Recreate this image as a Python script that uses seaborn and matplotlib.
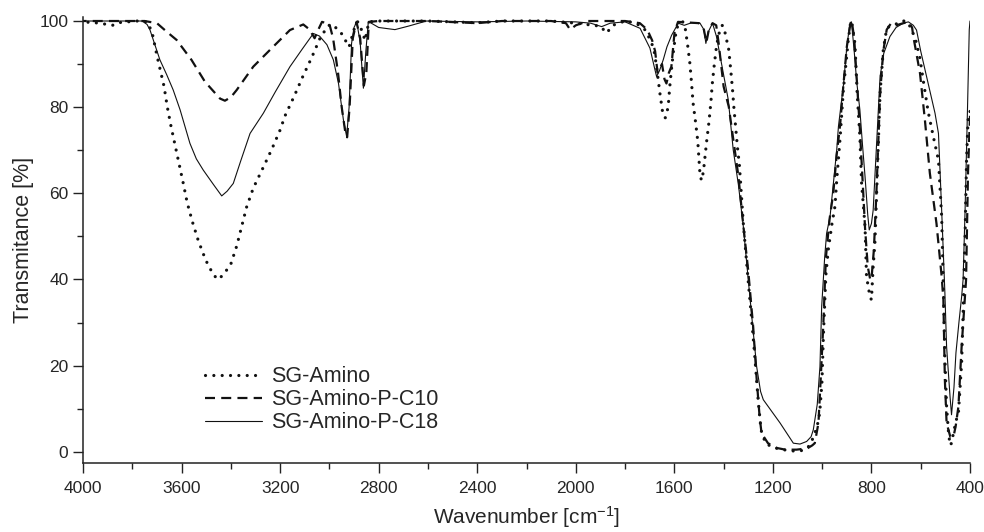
import numpy as np
import pandas as pd
import matplotlib
matplotlib.use("Agg")
import matplotlib.pyplot as plt
import seaborn as sns

# FTIR spectra (wavenumber cm-1, transmittance %)
amino_wn = [4000, 3950, 3900, 3880, 3860, 3820, 3780, 3740, 3720, 3700, 3688, 3671, 3658, 3644,
            3627, 3610, 3593, 3577, 3556, 3532, 3502, 3470, 3450, 3430, 3401, 3376, 3356, 3336,
            3309, 3272, 3234, 3200, 3180, 3144, 3108, 3072, 3038, 3010, 2995, 2975, 2955, 2935,
            2920, 2900, 2885, 2870, 2855, 2840, 2800, 2600, 2400, 2300, 2100, 2000, 1900, 1875,
            1850, 1800, 1755, 1720, 1707, 1690, 1680, 1668, 1658, 1648, 1637, 1625, 1619, 1612,
            1603, 1592, 1580, 1565, 1555, 1546, 1537, 1530, 1524, 1514, 1505, 1496, 1490, 1482,
            1469, 1460, 1452, 1446, 1438, 1428, 1415, 1405, 1395, 1379, 1371, 1364, 1358, 1351,
            1344, 1336, 1320, 1300, 1286, 1273, 1260, 1248, 1230, 1200, 1160, 1120, 1090, 1070,
            1050, 1035, 1020, 1010, 1001, 995, 985, 975, 960, 948, 941, 927, 914, 894, 885, 880,
            873, 867, 858, 847, 840, 826, 820, 806, 800, 793, 786, 779, 772, 765, 752, 738, 720,
            700, 680, 660, 640, 620, 603, 590, 570, 549, 528, 515, 508, 502, 495, 488, 481, 475,
            465, 455, 447, 434, 428, 420, 414, 408, 400]
amino_t = [99.8, 99.6, 99.2, 99.0, 99.6, 99.8, 100, 99.8, 97.5, 92, 89, 84.8, 80.1, 75.9,
           71.2, 66.8, 62.3, 57.8, 53.4, 49.0, 44.5, 41, 40, 41.2, 43.4, 47.8, 52.3, 56.8,
           61.2, 65.6, 70.2, 74.7, 78.0, 82.4, 87.1, 91.5, 96.0, 98.5, 99.3, 98.5, 97.5, 95.5,
           94, 98, 99.8, 98, 95.5, 99.8, 100, 100, 99.6, 100, 100, 99.5, 98.8, 97.2,
           99, 100, 99.5, 98, 96.7, 94.5, 92.5, 87.5, 83, 79, 77.5, 80, 84.5, 88.6,
           93.3, 98, 99.6, 99.8, 98, 94.4, 90.2, 85.5, 81, 76.6, 72.2, 64.5, 63, 65,
           72, 76.3, 80.9, 85.4, 89.8, 94.5, 98, 99, 97.5, 93.3, 88.6, 84.2, 79.7, 75.3,
           70.8, 66.6, 53, 39.5, 30.6, 21.8, 12.1, 5, 2, 1, 0.5, 0.2, 0.2, 0.5,
           1.5, 3.5, 6, 9, 16, 27, 41, 47, 53, 57, 63, 73, 84, 95.6, 99.5, 100,
           97, 94.8, 83.2, 73.2, 62.3, 52.3, 40.7, 36, 35.3, 43, 48.4, 60, 71.6, 83.2, 93.3, 98.3, 99,
           99.3, 100, 100, 98.5, 95.5, 91.3, 86.3, 79, 73.2, 67.7, 54.6, 38, 22, 10.5, 5, 1.5, 2,
           5, 7.5, 9, 20.6, 32.2, 50, 67.7, 77, 79]

c10_wn = [4000, 3750, 3700, 3660, 3620, 3560, 3505, 3444, 3424, 3400, 3376, 3309, 3234, 3160,
          3106, 3080, 3060, 3045, 3030, 3000, 2985, 2965, 2950, 2935, 2928, 2918, 2905, 2890,
          2875, 2860, 2850, 2840, 2800, 2600, 2400, 2300, 2100, 2040, 2023, 2000, 1950, 1800,
          1740, 1710, 1690, 1678, 1668, 1660, 1650, 1640, 1632, 1622, 1612, 1599, 1585, 1500,
          1480, 1470, 1460, 1445, 1430, 1420, 1400, 1379, 1368, 1340, 1320, 1300, 1280, 1266,
          1254, 1246, 1220, 1185, 1150, 1104, 1060, 1040, 1030, 1015, 1005, 995, 985, 970,
          955, 941, 927, 914, 900, 885, 880, 870, 858, 847, 835, 826, 815, 805, 800, 790,
          780, 772, 765, 752, 738, 720, 700, 670, 650, 635, 630, 603, 583, 563, 536, 515,
          508, 502, 495, 480, 467, 458, 447, 434, 416, 408, 400]
c10_t = [100, 100, 99.5, 97.5, 95.6, 91, 85.9, 82, 81.5, 82.3, 84, 89.4, 93.7, 97.9,
         99.2, 98, 96, 98, 99.8, 99.3, 96, 88, 80, 74, 73, 80, 96, 99.8,
         96, 85, 88, 99.8, 100, 100, 99.5, 100, 100, 99.5, 98, 99, 100, 100,
         99.5, 98, 95.5, 93, 88, 89, 90, 86.5, 85.5, 88, 89.4, 97.5, 99.8, 99.5,
         98, 95, 98, 99.5, 99, 94.8, 84.8, 80.1, 75.5, 64, 52.5, 42, 29, 17,
         8.2, 4.3, 2, 0.9, 0.5, 0.5, 0.8, 1.5, 2, 6.7, 18, 30, 45, 54,
         60, 69, 76, 85, 94, 99.5, 100, 96, 85, 75, 62, 52, 43, 40, 40, 47,
         60, 72, 83, 93, 98, 99.5, 99, 99.5, 99.8, 98.5, 96.4, 87.9, 77, 64.7, 53, 40.7,
         35.3, 16.7, 6.7, 3.5, 3.5, 6, 10.5, 24.4, 39.9, 65, 78]

c18_wn = [4000, 3760, 3740, 3728, 3688, 3660, 3634, 3606, 3566, 3540, 3512, 3470, 3437, 3415,
          3390, 3360, 3322, 3268, 3220, 3160, 3110, 3065, 3040, 3010, 2984, 2963, 2943, 2930,
          2920, 2910, 2900, 2889, 2875, 2862, 2852, 2842, 2830, 2800, 2734, 2680, 2606, 2400,
          2200, 2000, 1940, 1895, 1860, 1800, 1739, 1699, 1680, 1672, 1660, 1645, 1630, 1611,
          1584, 1560, 1530, 1496, 1480, 1472, 1462, 1445, 1429, 1405, 1381, 1361, 1340, 1320,
          1300, 1280, 1266, 1250, 1239, 1200, 1171, 1140, 1117, 1090, 1063, 1045, 1036, 1020,
          1009, 1002, 990, 982, 968, 955, 941, 934, 914, 901, 890, 881, 870, 860, 847, 836,
          826, 815, 809, 800, 793, 779, 765, 750, 725, 700, 671, 650, 630, 617, 600, 576,
          542, 528, 515, 502, 495, 481, 475, 465, 457, 445, 434, 428, 420, 410, 403, 400]
c18_t = [100, 100, 99.2, 97.9, 91, 87.5, 84, 79.4, 71.6, 68, 65.4, 62, 59.4, 60.5,
         62.3, 67.5, 73.9, 78.6, 83.5, 89.4, 93.5, 97.1, 96.5, 94.5, 91, 85.5, 77, 73.2,
         80, 94.8, 98.5, 99.8, 95, 84.4, 93, 99.8, 99.5, 98.5, 98, 98.8, 100, 99.8,
         100, 99.8, 99.5, 98.7, 99.5, 99.8, 98.3, 93.7, 89, 87.1, 88.5, 91, 94, 96.7,
         99.5, 99, 99.6, 99.5, 98, 94.8, 97.5, 99.5, 96.4, 89, 81.7, 70.1, 62, 52.3,
         40, 28, 19.8, 14, 12.1, 9, 6.7, 4, 2.0, 1.8, 2.4, 3.5, 5.1, 11,
         19.8, 33.7, 45, 50.7, 54.6, 62, 70, 75.5, 85, 93.3, 98.5, 99.8, 93, 86, 79.4, 71,
         63.9, 55, 51.5, 53, 56.1, 71.6, 87.1, 92.5, 96.4, 98.5, 99.5, 99.8, 99, 97.9, 93, 87.1,
         78.6, 73.9, 56.1, 37, 24.4, 12.8, 8.6, 15, 23, 30, 36, 40, 56, 80, 98, 100]

labels = ["SG-Amino", "SG-Amino-P-C10", "SG-Amino-P-C18"]

sns.set_theme(style="ticks")
plt.rcParams["font.family"] = ["Liberation Sans", "DejaVu Sans"]
plt.rcParams["mathtext.fontset"] = "custom"
plt.rcParams["mathtext.rm"] = "Liberation Sans"
plt.rcParams["mathtext.it"] = "Liberation Sans:italic"

fig = plt.figure(figsize=(9.84, 5.32), dpi=100)
ax = fig.add_axes([83 / 984, 69 / 532, 887 / 984, 446.3 / 532])

sns.lineplot(x=amino_wn, y=amino_t, ax=ax, color="#111111", linewidth=2.3,
             linestyle=(0, (0.01, 2.6)), dash_capstyle="round", label=labels[0])
sns.lineplot(x=c10_wn, y=c10_t, ax=ax, color="#111111", linewidth=1.6,
             linestyle=(0, (4.5, 2.8)), label=labels[1])
sns.lineplot(x=c18_wn, y=c18_t, ax=ax, color="#111111", linewidth=0.8,
             linestyle="-", label=labels[2])

ax.set_xlim(4000, 400)
ax.set_ylim(-2.6, 101)
ax.set_xticks(np.arange(4000, 399, -400))
ax.set_xticks(np.arange(3800, 400, -400), minor=True)
ax.set_yticks(np.arange(0, 101, 20))
ax.set_yticks(np.arange(10, 100, 20), minor=True)
ax.tick_params(axis="both", which="major", direction="out", length=7, width=1, labelsize=12.5, color="#222222")
ax.tick_params(axis="both", which="minor", direction="out", length=4, width=1, color="#222222")
ax.tick_params(axis="x", pad=6)

sns.despine(ax=ax)
for s in ["left", "bottom"]:
    ax.spines[s].set_linewidth(1.1)
    ax.spines[s].set_color("#222222")

ax.set_xlabel(r"Wavenumber [cm$^{-1}$]", fontsize=15, labelpad=6)
ax.set_ylabel("Transmitance [%]", fontsize=15.5, labelpad=4)

ax.legend(loc="upper left", bbox_to_anchor=(0.1375, 0.217), frameon=False, fontsize=15.5,
          handlelength=2.65, handletextpad=0.4, labelspacing=0.1, borderpad=0, borderaxespad=0)

fig.savefig("out.png", dpi=100)
plt.close(fig)
